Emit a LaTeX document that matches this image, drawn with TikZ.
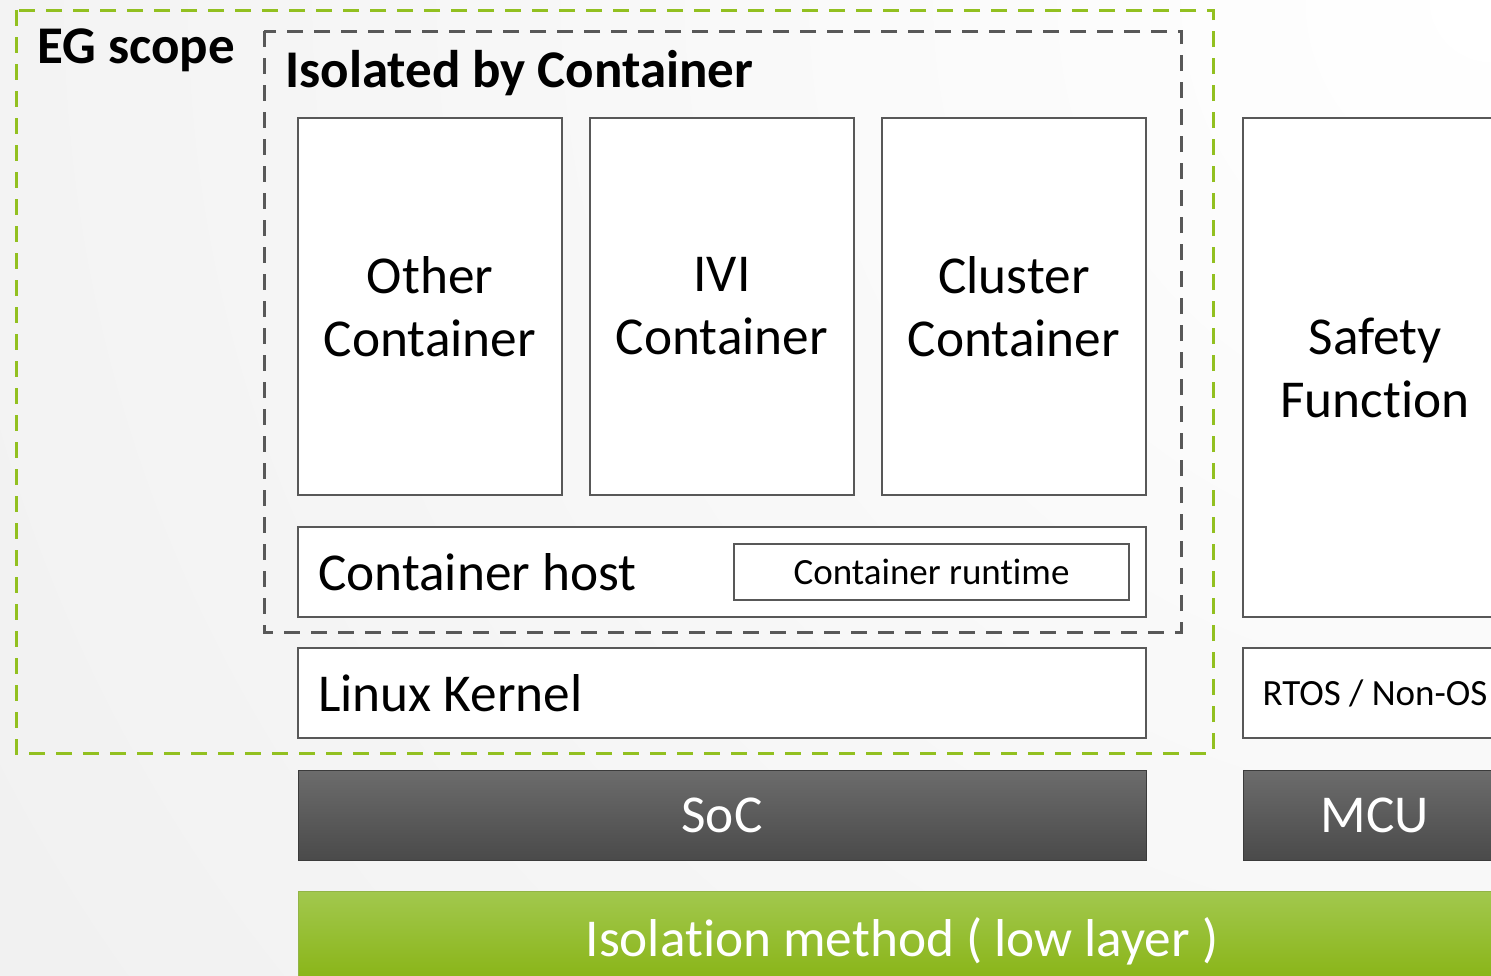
\documentclass[tikz,border=0pt]{standalone}
\usepackage{fontspec}
\setmainfont{Carlito}[Ligatures={NoCommon}]
\definecolor{egreen}{RGB}{146,192,32}
\definecolor{dgray}{RGB}{88,88,88}
\definecolor{bggray}{RGB}{226,226,226}
\definecolor{socTop}{RGB}{108,108,108}
\definecolor{socBot}{RGB}{74,74,74}
\definecolor{grTop}{RGB}{162,200,78}
\definecolor{grMid}{RGB}{148,194,28}
\definecolor{grBot}{RGB}{134,178,16}
\begin{document}
\begin{tikzpicture}[x=1pt,y=-1pt,
  box/.style={draw=dgray, line width=2.5pt, fill=white, inner sep=0pt, text=black, align=center},
  big/.style={font=\fontsize{53.3}{63}\selectfont},
  small/.style={font=\fontsize{37}{44}\selectfont},
  title/.style={font=\fontsize{53}{63}\selectfont\bfseries, inner sep=0pt, anchor=base west},
  chip/.style={draw=socBot!80!black, line width=1pt, top color=socTop, bottom color=socBot, text=white, inner sep=0pt, font=\fontsize{53.3}{63}\selectfont},
  greenbar/.style={draw=grTop!90!black, line width=1pt, top color=grTop, middle color=grMid, bottom color=grBot, text=white, inner sep=0pt, font=\fontsize{53.3}{63}\selectfont},
  egscope/.style={draw=egreen, line width=3pt, dash pattern=on 16pt off 11pt},
  isoscope/.style={draw=dgray, line width=3pt, dash pattern=on 16pt off 11pt}]
\useasboundingbox (0,0) rectangle (1491,975);
\clip (0,0) rectangle (1491,975);
\shade[inner color=white, outer color=bggray] (1491,0) circle (3600pt);

% scope frames
\draw[egscope] (16,10) rectangle (1213,753);
\draw[isoscope] (264,31) rectangle (1181,632);
\node[title] (eg) at (37,63) {EG scope};
\node[title] (iso) at (285,87) {Isolated by Container};

% containers
\node[box, big, minimum width=264pt, minimum height=377pt] (other) at (430,306.5) {Other\\Container};
\node[box, big, minimum width=264pt, minimum height=377pt] (ivi) at (722,306.5) {IVI\\Container};
\node[box, big, minimum width=264pt, minimum height=377pt] (cluster) at (1014,306.5) {Cluster\\Container};

% container host
\node[box, minimum width=848pt, minimum height=90pt] (host) at (722,572) {};
\node[big, anchor=west, inner sep=0pt] (hostlbl) at (318,572) {Container host};
\node[box, small, minimum width=395pt, minimum height=56pt] (runtime) at (931.5,572) {Container runtime};

% kernel
\node[box, minimum width=848pt, minimum height=90pt] (kernel) at (722,693) {};
\node[big, anchor=west, inner sep=0pt] (kernellbl) at (318,693) {Linux Kernel};

% safety side
\node[box, big, minimum width=264pt, minimum height=499pt] (safety) at (1375,367.5) {Safety\\Function};
\node[box, small, minimum width=264pt, minimum height=90pt] (rtos) at (1375,693) {RTOS / Non-OS};

% hardware
\node[chip, minimum width=848pt, minimum height=90pt] (soc) at (722,815) {SoC};
\node[chip, minimum width=264pt, minimum height=90pt] (mcu) at (1375,815) {MCU};

% isolation bar
\node[greenbar, minimum width=1208pt, minimum height=100pt] (isolation) at (902,941) {Isolation method ( low layer )};
\end{tikzpicture}
\end{document}
